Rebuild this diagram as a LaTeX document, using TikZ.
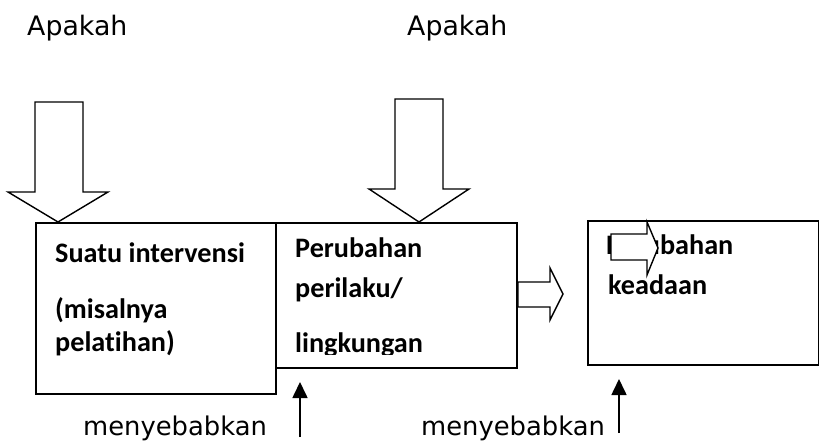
\documentclass[tikz,border=0pt]{standalone}
\usepackage{fontspec}
\setmainfont[Ligatures={NoCommon}]{Carlito}
\newfontfamily\labelfont{DejaVu Sans}
\usetikzlibrary{arrows.meta}
\begin{document}
\begin{tikzpicture}[x=1pt,y=-1pt,
  box/.style={draw, line width=2pt, anchor=north west, inner sep=0pt},
  boxtext/.style={anchor=base west, inner sep=0pt, font=\fontsize{28.2}{32}\selectfont\bfseries},
  caption/.style={anchor=base west, inner sep=0pt, font=\labelfont\fontsize{25.8}{30}\selectfont},
  question/.style={caption, font=\labelfont\fontsize{26.8}{30}\selectfont},
  blockarrow/.style={draw, fill=white, line width=1.4pt, line join=miter},
  cause/.style={line width=1.6pt, -{Triangle[width=15pt,length=16pt]}}]
\useasboundingbox (0,0) rectangle (819,443);

% top captions
\node[question] (q1) at (27,36) {Apakah};
\node[question] (q2) at (407,36) {Apakah};

% the three boxes
\node[box, minimum width=240pt, minimum height=171pt] (b1) at (35,222) {};
\node[box, minimum width=241pt, minimum height=145pt] (b2) at (275,222) {};
\node[box, minimum width=231pt, minimum height=144pt] (b3) at (587,220) {};

% box texts
\node[boxtext] (t11) at (55,263) {Suatu intervensi};
\node[boxtext] (t12) at (55,319) {(misalnya};
\node[boxtext] (t13) at (55,352) {pelatihan)};

\node[boxtext] (t21) at (295,258) {Perubahan};
\node[boxtext] (t22) at (295,298) {perilaku/};
\begin{scope}
  \clip (275,222) rectangle (516,355);
  \node[boxtext] (t23) at (295,353) {lingkungan};
\end{scope}

\node[boxtext] (t31) at (606,255) {Perubahan};
\node[boxtext] (t32) at (608,295) {keadaan};

% hollow block arrows
\draw[blockarrow] (35,102) -- (83,102) -- (83,192) -- (108,192) -- (b1.north west -| 58,0) -- (8,192) -- (35,192) -- cycle;
\draw[blockarrow] (395,99) -- (443,99) -- (443,189) -- (469,189) -- (b2.north west -| 419,0) -- (369,189) -- (395,189) -- cycle;
\draw[blockarrow] (b2.east |- 0,282) -- (550,282) -- (550,268) -- (563,294) -- (550,320) -- (550,307) -- (b2.east |- 0,307) -- cycle;
\draw[blockarrow] (611,234) -- (647,234) -- (647,222) -- (658,248) -- (647,275) -- (647,260) -- (611,260) -- cycle;

% bottom captions with their arrows
\node[caption] (m1) at (83,435) {menyebabkan};
\node[caption] (m2) at (421,435) {menyebabkan};
\coordinate (c1s) at (300,437);
\coordinate (c1e) at (300,382);
\coordinate (c2s) at (619,433);
\coordinate (c2e) at (619,379);
\draw[cause] (c1s) -- (c1e);
\draw[cause] (c2s) -- (c2e);
\end{tikzpicture}
\end{document}
